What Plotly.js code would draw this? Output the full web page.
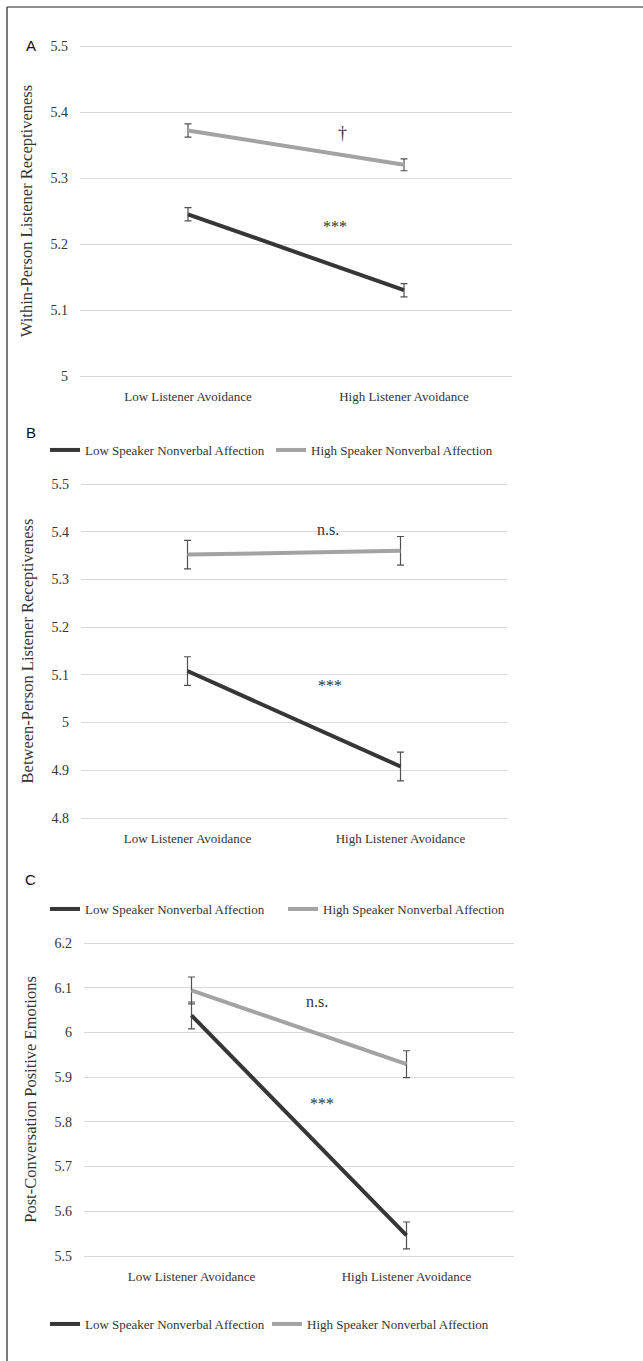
<!DOCTYPE html>
<html>
<head>
<meta charset="utf-8">
<script src="https://cdn.plot.ly/plotly-3.0.1.min.js"></script>
<style>html,body{margin:0;padding:0;background:#fff;}#chart{width:643px;height:1361px;}</style>
</head>
<body>
<div id="chart"></div>
<script>
// ---- data ----
var categories = ["Low Listener Avoidance", "High Listener Avoidance"];
var seriesNames = ["Low Speaker Nonverbal Affection", "High Speaker Nonverbal Affection"];

// Panel A: Within-Person Listener Receptiveness
var aLow = [5.245, 5.130];
var aLowErr = [0.010, 0.010];
var aHigh = [5.372, 5.320];
var aHighErr = [0.010, 0.009];

// Panel B: Between-Person Listener Receptiveness
var bLow = [5.108, 4.908];
var bLowErr = [0.030, 0.030];
var bHigh = [5.352, 5.360];
var bHighErr = [0.030, 0.030];

// Panel C: Post-Conversation Positive Emotions
var cLow = [6.038, 5.546];
var cLowErr = [0.030, 0.030];
var cHigh = [6.094, 5.929];
var cHighErr = [0.030, 0.030];

var aTicks = [5, 5.1, 5.2, 5.3, 5.4, 5.5];
var bTicks = [4.8, 4.9, 5, 5.1, 5.2, 5.3, 5.4, 5.5];
var cTicks = [5.5, 5.6, 5.7, 5.8, 5.9, 6, 6.1, 6.2];

var titles = ["Within-Person Listener Receptiveness", "Between-Person Listener Receptiveness", "Post-Conversation Positive Emotions"];

// ---- styling ----
var W = 643, H = 1361;
var SERIF = "Liberation Serif, Times New Roman, serif";
var SANS = "Liberation Sans, Arial, sans-serif";
var DARK = "#363636", GRAY = "#a3a3a3", ERR = "#505050", TXT = "#333333";
function px(x) { return x / W; }
function py(y) { return 1 - y / H; }

function mk(y, err, name, color, xa, ya, leg) {
  return {
    type: "scatter", mode: "lines", x: categories, y: y, name: name,
    xaxis: xa, yaxis: ya, legend: leg,
    line: { color: color, width: 4 },
    error_y: { type: "data", array: err, visible: true, color: ERR, thickness: 1.2, width: 3.5 },
    hoverinfo: "skip"
  };
}

var traces = [
  mk(aLow, aLowErr, seriesNames[0], DARK, "x", "y", "legend3"),
  mk(aHigh, aHighErr, seriesNames[1], GRAY, "x", "y", "legend3"),
  mk(bLow, bLowErr, seriesNames[0], DARK, "x2", "y2", "legend"),
  mk(bHigh, bHighErr, seriesNames[1], GRAY, "x2", "y2", "legend"),
  mk(cLow, cLowErr, seriesNames[0], DARK, "x3", "y3", "legend2"),
  mk(cHigh, cHighErr, seriesNames[1], GRAY, "x3", "y3", "legend2")
];

function xax(d0, d1, anchor) {
  return {
    domain: [px(d0), px(d1)], anchor: anchor, type: "category", range: [-0.5, 1.5],
    showgrid: false, zeroline: false, showline: false, ticks: "",
    ticklabelstandoff: 7, tickfont: { family: SERIF, size: 13, color: TXT }, fixedrange: true
  };
}
// top/bottom: pixel rows of the highest/lowest gridline; pad keeps end gridlines drawn
function yax(top, bottom, lo, hi, vals, anchor, title) {
  var pad = 4;
  var r = (hi - lo) / (bottom - top);
  return {
    domain: [py(bottom + pad), py(top - pad)], anchor: anchor, range: [lo - pad * r, hi + pad * r],
    tickvals: vals, ticktext: vals.map(String),
    showgrid: true, gridcolor: "#d9d9d9", gridwidth: 1, zeroline: false, showline: false,
    ticks: "", ticklabelstandoff: 11, tickfont: { family: SERIF, size: 14, color: TXT },
    title: { text: title, font: { family: SERIF, size: 16.5, color: TXT }, standoff: 13 },
    fixedrange: true
  };
}

function legend(xp, yp, ew) {
  return {
    orientation: "h", x: px(xp), xanchor: "left", y: py(yp), yanchor: "middle",
    font: { family: SERIF, size: 13, color: TXT }, bgcolor: "rgba(0,0,0,0)",
    itemwidth: 30, entrywidth: ew, entrywidthmode: "pixels",
    traceorder: "normal", itemclick: false, itemdoubleclick: false
  };
}

function note(text, xa, ya, x, y, size) {
  return { text: text, xref: xa, yref: ya, x: x, y: y, showarrow: false,
    xanchor: "center", yanchor: "middle",
    font: { family: SERIF, size: size || 15, color: TXT } };
}
function letter(text, x, y) {
  return { text: text, xref: "paper", yref: "paper", x: px(x), y: py(y), showarrow: false,
    xanchor: "center", yanchor: "middle",
    font: { family: SANS, size: 15, color: "#111" } };
}

var layout = {
  width: W, height: H, margin: { l: 0, r: 0, t: 0, b: 0 },
  paper_bgcolor: "#ffffff", plot_bgcolor: "rgba(0,0,0,0)",
  showlegend: true,
  xaxis: xax(80, 512, "y"),
  yaxis: yax(46, 376, 5, 5.5, aTicks, "x", titles[0]),
  xaxis2: xax(81, 507, "y2"),
  yaxis2: yax(484, 818, 4.8, 5.5, bTicks, "x2", titles[1]),
  xaxis3: xax(84, 514, "y3"),
  yaxis3: yax(943, 1256, 5.5, 6.2, cTicks, "x3", titles[2]),
  legend: legend(45, 450, 181),
  legend2: legend(45, 909, 193),
  legend3: legend(45, 1324, 177),
  annotations: [
    letter("A", 31, 46), letter("B", 31, 433), letter("C", 31, 879),
    note("\u2020", "x", "y", 0.713, 5.368, 18),
    note("***", "x", "y", 0.68, 5.226, 16),
    note("n.s.", "x2", "y2", 0.66, 5.405, 16),
    note("***", "x2", "y2", 0.669, 5.077, 16),
    note("n.s.", "x3", "y3", 0.584, 6.07, 16),
    note("***", "x3", "y3", 0.607, 5.84, 16)
  ],
  shapes: [
    { type: "line", xref: "paper", yref: "paper", x0: px(7), x1: 1, y0: py(7), y1: py(7), line: { color: "#222", width: 1.2 } },
    { type: "line", xref: "paper", yref: "paper", x0: px(7), x1: px(7), y0: py(7), y1: 0, line: { color: "#222", width: 1.2 } }
  ]
};

Plotly.newPlot("chart", traces, layout, { staticPlot: true, displayModeBar: false });
</script>
</body>
</html>
